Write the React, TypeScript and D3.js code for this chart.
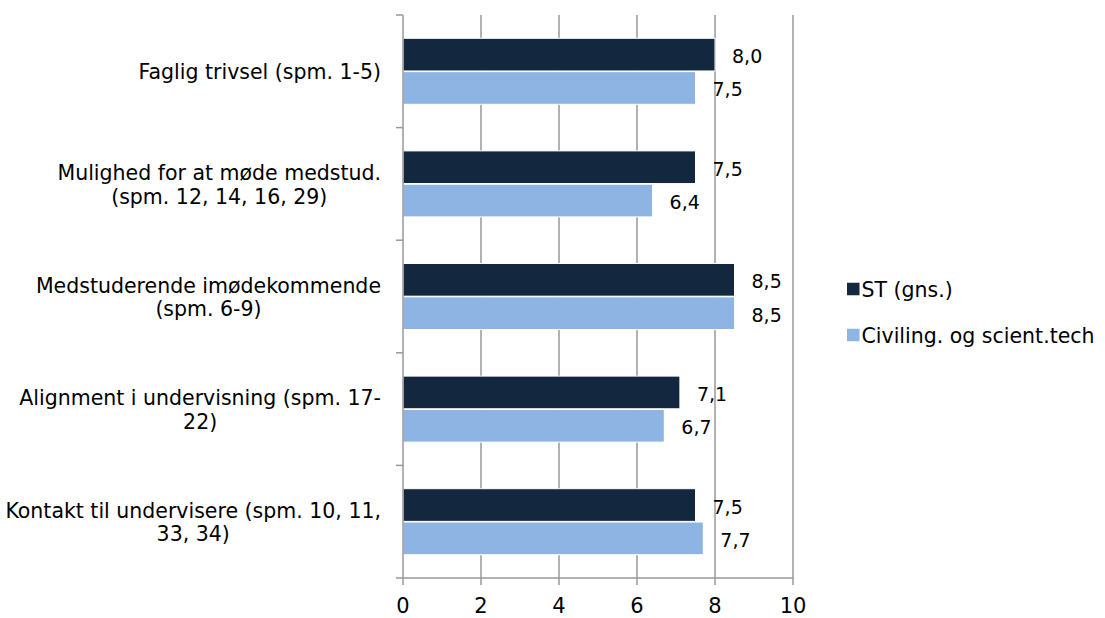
import React from "react";
import * as d3 from "d3";

const categories: string[][] = [
  ["Faglig trivsel (spm. 1-5)"],
  ["Mulighed for at møde medstud.", "(spm. 12, 14, 16, 29)"],
  ["Medstuderende imødekommende", "(spm. 6-9)"],
  ["Alignment i undervisning (spm. 17-", "22)"],
  ["Kontakt til undervisere (spm. 10, 11,", "33, 34)"],
];
const seriesNames = ["ST (gns.)", "Civiling. og scient.tech"];
const stValues = [8.0, 7.5, 8.5, 7.1, 7.5];
const civValues = [7.5, 6.4, 8.5, 6.7, 7.7];
const xTicks = [0, 2, 4, 6, 8, 10];
const colors = ["#13273f", "#8eb4e3"];

const W = 1105, H = 618;
const FONT = "'DejaVu Sans', sans-serif";
const CAT_SIZE = 20.5;

function measure(text: string, size: number) {
  const c = document.createElement("canvas").getContext("2d")!;
  c.font = `${size}px ${FONT}`;
  return c.measureText(text).width;
}

export default function App() {
  const x = d3.scaleLinear().domain([0, 10]).range([403, 793]);
  const idx = categories.map((_, i) => String(i));
  const y = d3.scaleBand().domain(idx).range([15, 578]);
  const inner = d3.scaleBand().domain(["0", "1"]).range([23.3, y.bandwidth() - 23.3]).paddingInner(0.02);
  const series = [stValues, civValues];
  const fmt = (v: number) => v.toFixed(1).replace(".", ",");
  const boundaries = d3.range(categories.length + 1).map((i) => 15 + i * y.bandwidth());

  return (
    <svg width={W} height={H} style={{ position: "absolute", left: 0, top: 0, background: "#fff" }} fontFamily={FONT}>
      {xTicks.slice(1).map((t) => (
        <line key={"g" + t} x1={x(t)} x2={x(t)} y1={15} y2={578} stroke="#999" strokeWidth={1.5} />
      ))}
      {categories.map((_, i) =>
        series.map((vals, s) => (
          <rect key={`b${i}-${s}`} x={x(0)} y={(y(String(i)) as number) + (inner(String(s)) as number)}
            width={x(vals[i]) - x(0)} height={inner.bandwidth()} fill={colors[s]} stroke="#fff" strokeWidth={1} />
        ))
      )}
      <line x1={x(0)} x2={x(0)} y1={15} y2={578} stroke="#999" strokeWidth={1.5} />
      {boundaries.map((b, i) => (
        <line key={"yt" + i} x1={x(0) - 7} x2={x(0)} y1={b} y2={b} stroke="#999" strokeWidth={1.5} />
      ))}
      <line x1={x(0)} x2={x(10)} y1={578} y2={578} stroke="#999" strokeWidth={1.5} />
      {xTicks.map((t) => (
        <g key={"xt" + t}>
          <line x1={x(t)} x2={x(t)} y1={578} y2={585} stroke="#999" strokeWidth={1.5} />
          <text x={x(t)} y={613} textAnchor="middle" fontSize={21} fill="#000">{t}</text>
        </g>
      ))}
      {categories.map((_, i) =>
        series.map((vals, s) => (
          <text key={`l${i}-${s}`} x={x(vals[i]) + 17}
            y={(y(String(i)) as number) + (inner(String(s)) as number) + inner.bandwidth() / 2 + 8.5}
            fontSize={19} fill="#000">{fmt(vals[i])}</text>
        ))
      )}
      {categories.map((lines, i) => {
        const cy = (y(String(i)) as number) + y.bandwidth() / 2;
        const lh = 23.5;
        const maxW = Math.max(...lines.map((l) => measure(l, CAT_SIZE)));
        const cx = 381 - maxW / 2;
        return (
          <text key={"c" + i} textAnchor="middle" fontSize={CAT_SIZE} fill="#000">
            {lines.map((ln, k) => (
              <tspan key={k} x={cx} y={cy + 8 + (k - (lines.length - 1) / 2) * lh}>{ln}</tspan>
            ))}
          </text>
        );
      })}
      {seriesNames.map((n, s) => (
        <g key={"lg" + s} transform={`translate(847, ${289 + s * 46})`}>
          <rect x={0} y={-6.25} width={12.5} height={12.5} fill={colors[s]} />
          <text x={14.5} y={8} fontSize={CAT_SIZE} fill="#000">{n}</text>
        </g>
      ))}
    </svg>
  );
}
